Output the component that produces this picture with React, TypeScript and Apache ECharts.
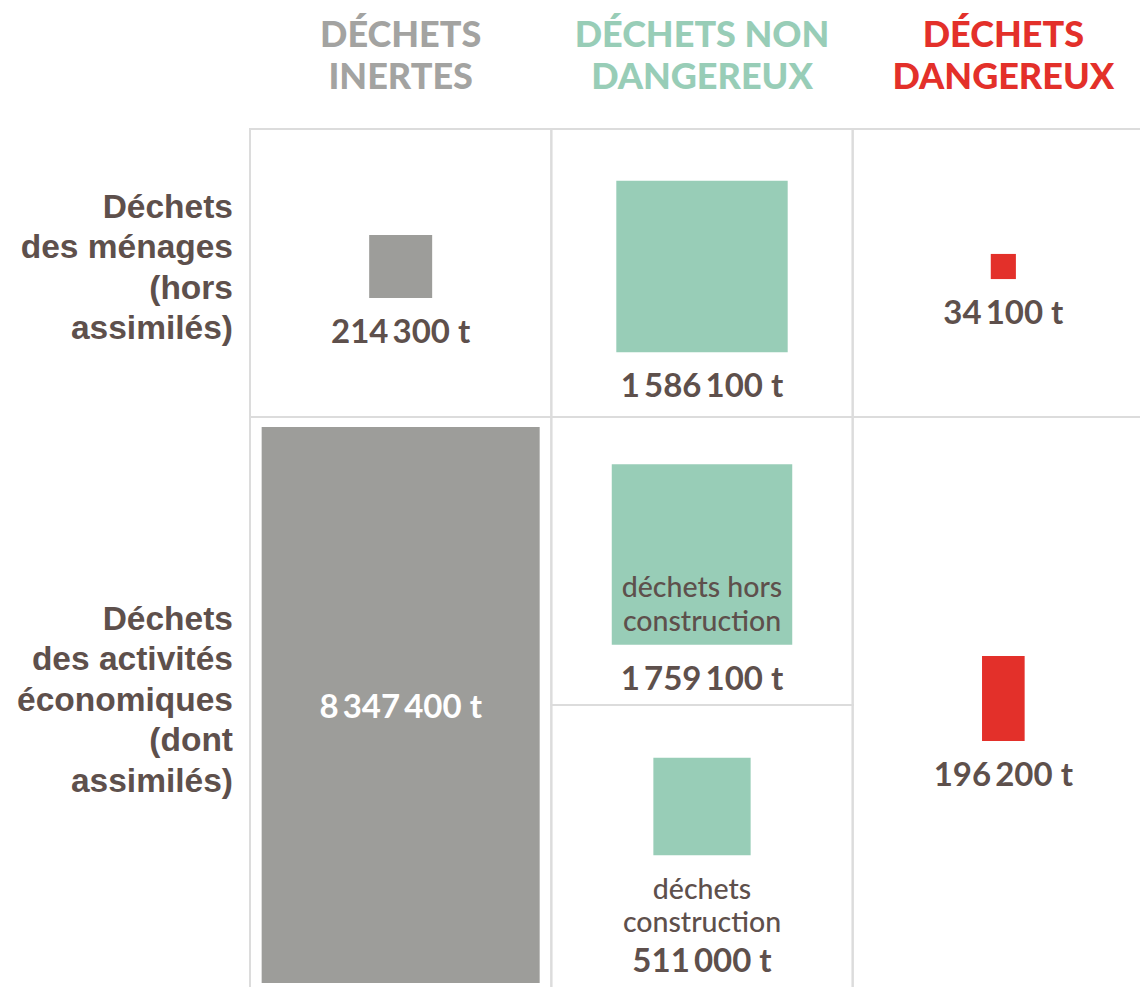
import React, { useEffect, useRef } from "react";
import * as echarts from "echarts";

// ---- Data ----
const columnNames = ["DÉCHETS\nINERTES", "DÉCHETS NON\nDANGEREUX", "DÉCHETS\nDANGEREUX"];
const rowNames = [
  "Déchets\ndes ménages\n(hors\nassimilés)",
  "Déchets\ndes activités\néconomiques\n(dont\nassimilés)",
];
const itemValues = [214300, 1586100, 34100, 8347400, 1759100, 511000, 196200];
const itemColumn = [0, 1, 2, 0, 1, 1, 2];
const itemRow = [0, 0, 0, 1, 1, 1, 1];
const itemSubLabels = ["", "", "", "", "déchets hors\nconstruction", "déchets\nconstruction", ""];

// ---- Layout / style ----
const columnColors = ["#9d9d9a", "#98cdb7", "#e3302a"];
const headerColors = ["#a3a3a1", "#98cdb7", "#e3302a"];
const TEXT = "#5e504c";
const GRID_LINE = "#dcdcdc";
const rowSpans = [[0, 1], [1, 3]];
const itemSpan = [[0, 1], [0, 1], [0, 1], [1, 3], [1, 2], [2, 3], [1, 3]];
const itemAspect = [1, 1, 1, 2, 1, 1, 2];
const valueInside = [false, false, false, true, false, false, false];
const subInside = [false, false, false, false, true, false, false];
const cellBorders = [
  [0, 0, 1, 1], [1, 0, 2, 1], [2, 0, 3, 1],
  [0, 1, 1, 3], [1, 1, 2, 2], [1, 2, 2, 3], [2, 1, 3, 3],
];
const TONNES_PER_PX2 = 54;
const GROUP_DY = 17;

const fmt = (v: number) =>
  String(v).replace(/\B(?=(\d{3})+(?!\d))/g, "\u2009") + "\u00A0t";

export default function App() {
  const ref = useRef<HTMLDivElement>(null);
  useEffect(() => {
    const chart = echarts.init(ref.current!, null, { renderer: "svg" });

    const borderSeries = {
      type: "custom",
      z: 1,
      silent: true,
      encode: { x: [0, 2], y: [1, 3] },
      data: cellBorders,
      renderItem: (_p: any, api: any) => {
        const a = api.coord([api.value(0), api.value(1)]);
        const b = api.coord([api.value(2), api.value(3)]);
        return {
          type: "rect",
          shape: { x: a[0], y: a[1], width: b[0] - a[0], height: b[1] - a[1] },
          style: { fill: "none", stroke: GRID_LINE, lineWidth: 2 },
        };
      },
    };

    const rowLabelSeries = {
      type: "custom",
      z: 2,
      silent: true,
      encode: { x: 0, y: [1, 2] },
      data: rowNames.map((_, i) => [0, rowSpans[i][0], rowSpans[i][1]]),
      renderItem: (p: any, api: any) => {
        const t = api.coord([0, api.value(1)]);
        const b = api.coord([0, api.value(2)]);
        return {
          type: "text",
          style: {
            text: rowNames[p.dataIndex],
            x: t[0] - 17,
            y: (t[1] + b[1]) / 2 - 6,
            align: "right",
            verticalAlign: "middle",
            fontFamily: "Liberation Sans",
            fontWeight: 700,
            fontSize: 33.5,
            lineHeight: 40.5,
            fill: TEXT,
          },
        };
      },
    };

    const boxSeries = {
      type: "custom",
      z: 3,
      silent: true,
      encode: { x: 0, y: [1, 2] },
      data: itemValues.map((v, i) => [itemColumn[i] + 0.5, itemSpan[i][0], itemSpan[i][1], v]),
      renderItem: (p: any, api: any) => {
        const i = p.dataIndex;
        const top = api.coord([api.value(0), api.value(1)]);
        const bot = api.coord([api.value(0), api.value(2)]);
        const cx = top[0];
        const cy = (top[1] + bot[1]) / 2;
        const area = api.value(3) / TONNES_PER_PX2;
        const w = Math.sqrt(area / itemAspect[i]);
        const h = w * itemAspect[i];
        const children: any[] = [];
        const sub = itemSubLabels[i];
        const subLines = sub ? sub.split("\n").length : 0;
        let rectTop: number;
        const valueStyle = {
          fontFamily: "Lato",
          fontWeight: 700,
          fontSize: 33,
          align: "center",
          verticalAlign: "middle",
        };
        const subStyle = {
          fontFamily: "Lato",
          fontWeight: 500,
          fontSize: 28.5,
          lineHeight: 34,
          align: "center",
          verticalAlign: "middle",
          fill: TEXT,
        };
        if (valueInside[i]) {
          rectTop = cy - h / 2;
          children.push({
            type: "rect",
            shape: { x: cx - w / 2, y: rectTop, width: w, height: h },
            style: { fill: columnColors[itemColumn[i]] },
          });
          children.push({
            type: "text",
            style: { ...valueStyle, text: fmt(itemValues[i]), x: cx, y: cy, fill: "#ffffff" },
          });
        } else {
          const belowSub = sub && !subInside[i] ? subLines : 0;
          const valueOffset = belowSub ? 33 + (belowSub - 1) * 33 + 38 : 32;
          const extra = valueOffset + 15;
          rectTop = cy + GROUP_DY - (h + extra) / 2;
          const rectBot = rectTop + h;
          children.push({
            type: "rect",
            shape: { x: cx - w / 2, y: rectTop, width: w, height: h },
            style: { fill: columnColors[itemColumn[i]] },
          });
          if (sub && subInside[i]) {
            children.push({
              type: "text",
              style: { ...subStyle, text: sub, x: cx, y: rectBot - 41.5 },
            });
          } else if (sub) {
            children.push({
              type: "text",
              style: { ...subStyle, text: sub, x: cx, y: rectBot + 33 + ((subLines - 1) * 33) / 2, lineHeight: 33 },
            });
          }
          children.push({
            type: "text",
            style: { ...valueStyle, text: fmt(itemValues[i]), x: cx, y: rectBot + valueOffset, fill: TEXT },
          });
        }
        return { type: "group", children };
      },
    };

    chart.setOption({
      animation: false,
      backgroundColor: "#ffffff",
      grid: { left: 250, top: 129, right: 0, bottom: 0, containLabel: false },
      xAxis: [
        { type: "value", min: 0, max: 3, show: false },
        {
          type: "category",
          data: columnNames,
          position: "top",
          axisLine: { show: false },
          axisTick: { show: false },
          splitLine: { show: false },
          axisLabel: {
            interval: 0,
            margin: 33,
            color: (_v: any, idx: number) => headerColors[idx],
            fontFamily: "Lato",
            fontWeight: 900,
            fontSize: 36,
            lineHeight: 42,
          },
        },
      ],
      yAxis: { type: "value", min: 0, max: 3, inverse: true, show: false },
      series: [borderSeries, rowLabelSeries, boxSeries],
    });
    return () => chart.dispose();
  }, []);
  return (
    <div style={{ position: "fixed", left: 0, top: 0, width: 1140, height: 987, overflow: "hidden", background: "#fff" }}>
      <div ref={ref} style={{ width: 1154, height: 993 }} />
    </div>
  );
}
